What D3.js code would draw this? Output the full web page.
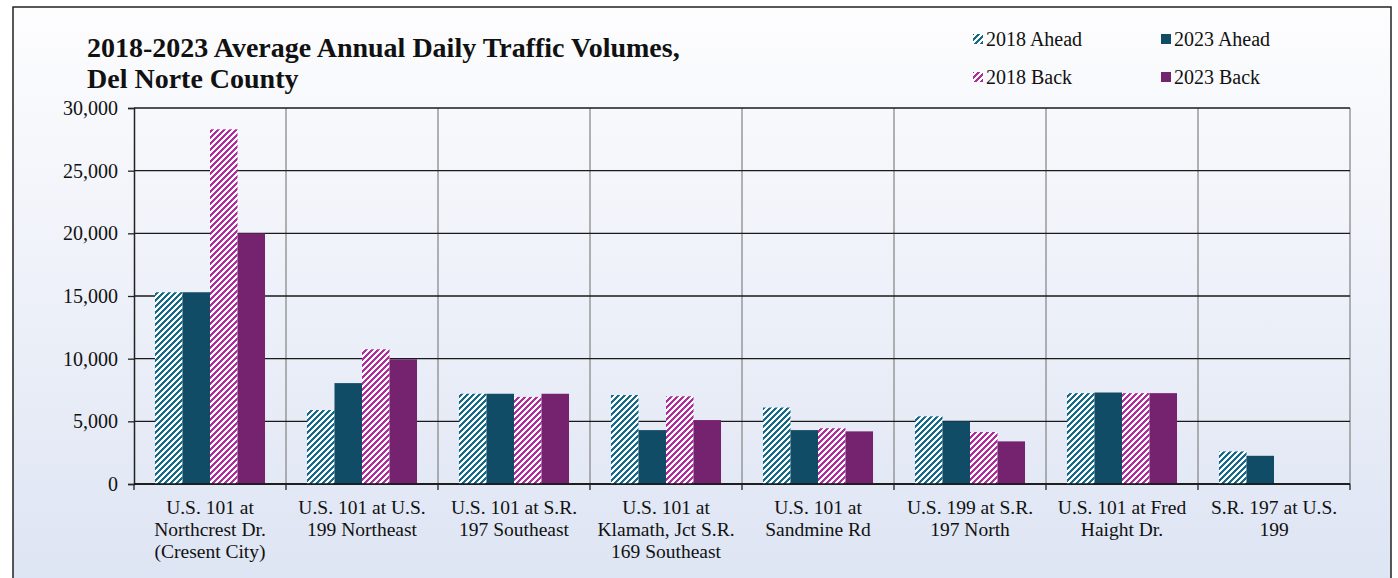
<!DOCTYPE html>
<html>
<head>
<meta charset="utf-8">
<script src="https://cdn.jsdelivr.net/npm/d3@7"></script>
<style>
  body { margin: 0; background: #fff; }
  text { font-family: 'Liberation Serif', 'Times New Roman', serif; }
</style>
</head>
<body>
<div id="chart"></div>
<script>
const categories = [
  'U.S. 101 at|Northcrest Dr.|(Cresent City)',
  'U.S. 101 at U.S.|199 Northeast',
  'U.S. 101 at S.R.|197 Southeast',
  'U.S. 101 at|Klamath, Jct S.R.|169 Southeast',
  'U.S. 101 at|Sandmine Rd',
  'U.S. 199 at S.R.|197 North',
  'U.S. 101 at Fred|Haight Dr.',
  'S.R. 197 at U.S.|199'
]
const seriesNames = ['2018 Ahead', '2023 Ahead', '2018 Back', '2023 Back']
const ahead2018 = [15300, 5900, 7200, 7100, 6100, 5400, 7250, 2600]
const ahead2023 = [15300, 8050, 7200, 4300, 4300, 5000, 7300, 2250]
const back2018 = [28300, 10750, 6950, 7000, 4450, 4150, 7250, null]
const back2023 = [20000, 9950, 7200, 5100, 4200, 3400, 7250, null]
const yTicks = [0, 5000, 10000, 15000, 20000, 25000, 30000]

const W = 1398
const H = 578
const margin = { top: 108, left: 134, right: 48, bottom: 94 }

const svg = d3.select('#chart')
  .append('svg')
  .attr('width', W)
  .attr('height', H)
  .attr('font-family', "'Liberation Serif', serif")

const defs = svg.append('defs')

const grad = defs.append('linearGradient')
  .attr('id', 'bg')
  .attr('x1', 0).attr('y1', 0).attr('x2', 0).attr('y2', 1)
grad.append('stop').attr('offset', '0%').attr('stop-color', '#fdfdfe')
grad.append('stop').attr('offset', '100%').attr('stop-color', '#dde4f3')

// pixel stripe pattern, 6x6 tile, 3 coloured pixels per row
function hatch(id, color) {
  const p = defs.append('pattern')
    .attr('id', id)
    .attr('patternUnits', 'userSpaceOnUse')
    .attr('width', 6)
    .attr('height', 6)
  p.append('rect').attr('width', 6).attr('height', 6).attr('fill', '#fff')
  const cells = []
  for (let r = 0; r < 6; r++) {
    for (let k = 0; k < 3; k++) cells.push([(5 - r + k) % 6, r])
  }
  p.selectAll('rect.px')
    .data(cells)
    .enter()
    .append('rect')
    .attr('class', 'px')
    .attr('x', d => d[0])
    .attr('y', d => d[1])
    .attr('width', 1)
    .attr('height', 1)
    .attr('fill', color)
    .attr('shape-rendering', 'crispEdges')
}
hatch('hatchTeal', '#156a8a')
hatch('hatchPink', '#b02c9c')

const fills = ['url(#hatchTeal)', '#114c66', 'url(#hatchPink)', '#76236f']

// outer background + frame
svg.append('rect')
  .attr('x', 13).attr('y', 7)
  .attr('width', 1378).attr('height', 580)
  .attr('fill', 'url(#bg)')
  .attr('stroke', '#222')
  .attr('stroke-width', 1.5)

const x0 = d3.scaleBand()
  .domain(d3.range(categories.length))
  .range([margin.left, W - margin.right])
  .paddingInner(0.276)
  .paddingOuter(0.138)

const x1 = d3.scaleBand()
  .domain(d3.range(seriesNames.length))
  .range([0, x0.bandwidth()])

const y = d3.scaleLinear()
  .domain([0, 30000])
  .range([H - margin.bottom, margin.top])

const step = x0.step()
const plotLeft = margin.left
const plotRight = W - margin.right

// vertical gridlines
svg.append('g')
  .selectAll('line')
  .data(d3.range(1, categories.length + 1))
  .enter()
  .append('line')
  .attr('x1', d => plotLeft + d * step)
  .attr('x2', d => plotLeft + d * step)
  .attr('y1', y(30000))
  .attr('y2', y(0))
  .attr('stroke', '#8a8a8a')
  .attr('stroke-width', 1.3)

// horizontal gridlines
svg.append('g')
  .selectAll('line')
  .data(yTicks)
  .enter()
  .append('line')
  .attr('x1', plotLeft)
  .attr('x2', plotRight)
  .attr('y1', d => y(d))
  .attr('y2', d => y(d))
  .attr('stroke', '#1a1a1a')
  .attr('stroke-width', 1.3)

// bars
const seriesValues = [ahead2018, ahead2023, back2018, back2023]
const groups = svg.append('g')
  .selectAll('g')
  .data(categories.map((c, i) => i))
  .enter()
  .append('g')
  .attr('transform', i => 'translate(' + x0(i) + ',0)')

groups.selectAll('rect')
  .data(i => seriesValues.map((s, k) => ({ k: k, v: s[i] })).filter(d => d.v != null))
  .enter()
  .append('rect')
  .attr('x', d => x1(d.k))
  .attr('width', x1.bandwidth())
  .attr('y', d => y(d.v))
  .attr('height', d => y(0) - y(d.v))
  .attr('fill', d => fills[d.k])

// y axis
const yAxis = d3.axisLeft(y)
  .tickValues(yTicks)
  .tickFormat(d3.format(','))
  .tickSize(6)
  .tickPadding(10)
svg.append('g')
  .attr('class', 'axis y-axis')
  .attr('transform', 'translate(' + plotLeft + ',0)')
  .call(yAxis)
  .attr('font-family', "'Liberation Serif', serif")
  .attr('font-size', 20)
svg.selectAll('.y-axis text')
  .attr('fill', '#111')
svg.selectAll('.y-axis line').attr('stroke', '#222').attr('stroke-width', 1.3)
svg.selectAll('.y-axis path').attr('stroke', '#222').attr('stroke-width', 1.5)

// x axis line + ticks at boundaries
svg.append('line')
  .attr('x1', plotLeft).attr('x2', plotRight)
  .attr('y1', y(0)).attr('y2', y(0))
  .attr('stroke', '#111').attr('stroke-width', 1.6)
svg.append('g')
  .selectAll('line')
  .data(d3.range(0, categories.length + 1))
  .enter()
  .append('line')
  .attr('x1', d => plotLeft + d * step)
  .attr('x2', d => plotLeft + d * step)
  .attr('y1', y(0))
  .attr('y2', y(0) + 6)
  .attr('stroke', '#222')
  .attr('stroke-width', 1.3)

// category labels
const labels = svg.append('g')
  .selectAll('text')
  .data(categories)
  .enter()
  .append('text')
  .attr('text-anchor', 'middle')
  .attr('font-size', 19.5)
  .attr('fill', '#111')
  .attr('transform', (d, i) => 'translate(' + (x0(i) + x0.bandwidth() / 2) + ',' + (y(0) + 30) + ')')
labels.selectAll('tspan')
  .data(d => d.split('|'))
  .enter()
  .append('tspan')
  .attr('x', 0)
  .attr('dy', (d, i) => i === 0 ? 0 : 22)
  .text(d => d)

// title
const title = svg.append('text')
  .attr('x', 87)
  .attr('y', 57)
  .attr('font-size', 28)
  .attr('font-weight', 'bold')
  .attr('fill', '#111')
title.append('tspan').attr('x', 87).text('2018-2023 Average Annual Daily Traffic Volumes,')
title.append('tspan').attr('x', 87).attr('dy', 31).text('Del Norte County')

// legend
const legendPos = [[973, 39], [1161, 39], [973, 77], [1161, 77]]
const legend = svg.append('g')
  .selectAll('g')
  .data(seriesNames)
  .enter()
  .append('g')
  .attr('transform', (d, i) => 'translate(' + legendPos[i][0] + ',' + legendPos[i][1] + ')')
legend.append('rect')
  .attr('x', 0).attr('y', -5)
  .attr('width', 10).attr('height', 10)
  .attr('fill', (d, i) => fills[i])
legend.append('text')
  .attr('x', 13)
  .attr('y', 7)
  .attr('font-size', 20)
  .attr('fill', '#111')
  .text(d => d)
</script>
</body>
</html>
